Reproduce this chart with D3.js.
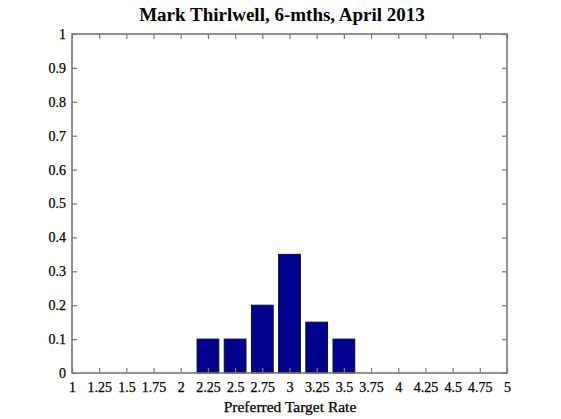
<!DOCTYPE html>
<html>
<head>
<meta charset="utf-8">
<script src="https://cdn.jsdelivr.net/npm/d3@7"></script>
<style>
  body { margin: 0; background: #fff; }
  svg text { font-family: "Liberation Serif", "Times New Roman", serif; fill: #000; }
</style>
</head>
<body>
<div id="chart"></div>
<script>
// preferred target rate (bin centres) and share of responses
var rates = [2.25, 2.5, 2.75, 3, 3.25, 3.5];
var shares = [0.1, 0.1, 0.2, 0.35, 0.15, 0.1];
var xTicks = [1, 1.25, 1.5, 1.75, 2, 2.25, 2.5, 2.75, 3, 3.25, 3.5, 3.75, 4, 4.25, 4.5, 4.75, 5];
var yTicks = [0, 0.1, 0.2, 0.3, 0.4, 0.5, 0.6, 0.7, 0.8, 0.9, 1];

var W = 561, H = 419;
var margin = {top: 34, right: 54, bottom: 46, left: 72},
	width = W - margin.left - margin.right,
	height = H - margin.top - margin.bottom;

var svg = d3.select("#chart").append("svg")
	.attr("width", W)
	.attr("height", H);

var g = svg.append("g")
	.attr("transform", "translate(" + margin.left + "," + margin.top + ")");

var x = d3.scaleLinear().domain([1, 5]).range([0, width]);
var y = d3.scaleLinear().domain([0, 1]).range([height, 0]);

var barW = (x(1.25) - x(1)) * 0.8;

g.selectAll(".bar")
	.data(rates)
  .enter().append("rect")
	.attr("class", "bar")
	.attr("x", function(d) { return x(d) - barW / 2; })
	.attr("width", barW)
	.attr("y", function(d, i) { return y(shares[i]); })
	.attr("height", function(d, i) { return height - y(shares[i]); })
	.attr("fill", "#00008c")
	.attr("stroke", "#111")
	.attr("stroke-width", 1);

// box with ticks on all four sides, pointing in
var axisColor = "#777";
function styleAxis(sel) {
	sel.select(".domain").remove();
	sel.selectAll(".tick line").attr("stroke", axisColor).attr("stroke-width", 1.2);
	sel.selectAll(".tick text").attr("font-size", "14px").attr("fill", "#000")
		.attr("stroke", "#000").attr("stroke-width", 0.25);
}

g.append("g")
	.attr("transform", "translate(0," + height + ")")
	.call(d3.axisBottom(x).tickValues(xTicks).tickSize(-5).tickPadding(9).tickFormat(function(d) { return d; }))
	.call(styleAxis);

g.append("g")
	.call(d3.axisTop(x).tickValues(xTicks).tickSize(-5).tickFormat(""))
	.call(styleAxis);

g.append("g")
	.call(d3.axisLeft(y).tickValues(yTicks).tickSize(-5).tickPadding(6).tickFormat(function(d) { return d; }))
	.call(styleAxis);

g.append("g")
	.attr("transform", "translate(" + width + ",0)")
	.call(d3.axisRight(y).tickValues(yTicks).tickSize(-5).tickFormat(""))
	.call(styleAxis);

g.append("rect")
	.attr("width", width)
	.attr("height", height)
	.attr("fill", "none")
	.attr("stroke", axisColor)
	.attr("stroke-width", 1.6);

svg.append("text")
	.attr("x", 282)
	.attr("y", 21)
	.attr("text-anchor", "middle")
	.attr("font-size", "19px")
	.attr("font-weight", "bold")
	.text("Mark Thirlwell, 6-mths, April 2013");

svg.append("text")
	.attr("x", 290)
	.attr("y", 412)
	.attr("text-anchor", "middle")
	.attr("font-size", "15.5px")
	.attr("stroke", "#000")
	.attr("stroke-width", 0.25)
	.text("Preferred Target Rate");
</script>
</body>
</html>
